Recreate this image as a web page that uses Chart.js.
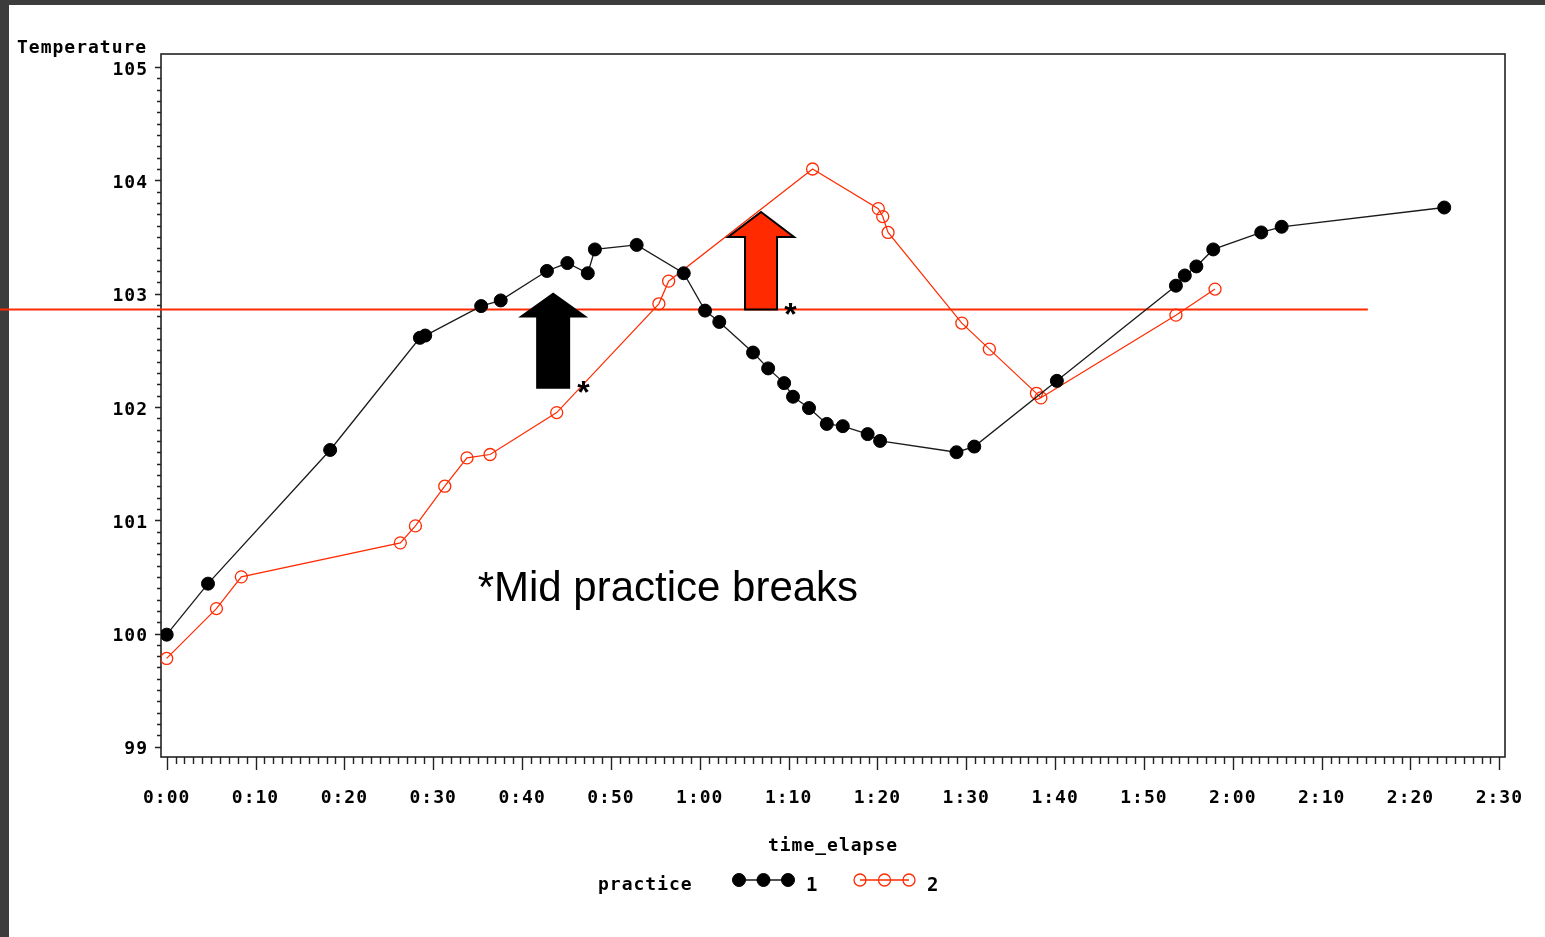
<!DOCTYPE html>
<html>
<head>
<meta charset="utf-8">
<script src="https://cdn.jsdelivr.net/npm/chart.js@4"></script>
<style>
  html, body { margin: 0; padding: 0; background: #ffffff; overflow: hidden; }
  canvas { display: block; }
</style>
</head>
<body>
<canvas id="c" width="1545" height="937"></canvas>
<script>
// ---------- data ----------
const practice1Time = [0, 4.65, 18.4, 28.5, 29.1, 35.4, 37.6, 42.8, 45.1, 47.4, 48.2, 52.9, 58.2, 60.6, 62.2, 66.0, 67.7, 69.5, 70.5, 72.3, 74.3, 76.1, 78.9, 80.3, 88.9, 90.9, 100.2, 113.6, 114.6, 115.9, 117.8, 123.2, 125.5, 143.8];
const practice1Temp = [99.99, 100.44, 101.62, 102.61, 102.63, 102.89, 102.94, 103.20, 103.27, 103.18, 103.39, 103.43, 103.18, 102.85, 102.75, 102.48, 102.34, 102.21, 102.09, 101.99, 101.85, 101.83, 101.76, 101.70, 101.60, 101.65, 102.23, 103.07, 103.16, 103.24, 103.39, 103.54, 103.59, 103.76];
const practice2Time = [0, 5.6, 8.4, 26.3, 28.0, 31.3, 33.8, 36.4, 43.9, 55.4, 56.5, 72.7, 80.1, 80.6, 81.2, 89.5, 92.6, 97.9, 98.4, 113.6, 118.0];
const practice2Temp = [99.78, 100.22, 100.50, 100.80, 100.95, 101.30, 101.55, 101.58, 101.95, 102.91, 103.11, 104.10, 103.75, 103.68, 103.54, 102.74, 102.51, 102.12, 102.08, 102.81, 103.04];
const seriesNames = ["1", "2"];
const yTickValues = [99, 100, 101, 102, 103, 104, 105];
const xTickValues = [0, 10, 20, 30, 40, 50, 60, 70, 80, 90, 100, 110, 120, 130, 140, 150];
const xTickLabels = ["0:00", "0:10", "0:20", "0:30", "0:40", "0:50", "1:00", "1:10", "1:20", "1:30", "1:40", "1:50", "2:00", "2:10", "2:20", "2:30"];
const thresholdTemp = 102.86;
const thresholdEndTime = 135.2;
// arrows: [time, tipTemp, baseTemp]
const breakArrow1 = [43.5, 103.01, 102.16];
const breakArrow2 = [66.9, 103.72, 102.86];
const asterisk1 = [46.9, 102.19];
const asterisk2 = [70.2, 102.88];
const noteText = "*Mid practice breaks";
const notePos = [35.0, 100.29];

const RED = '#ff2a00';
const MONO = '"DejaVu Sans Mono", monospace';

const toPts = (xs, ys) => xs.map((x, i) => ({ x: x, y: ys[i] }));

const decorPlugin = {
  id: 'decor',
  beforeDraw(chart) {
    const ctx = chart.ctx;
    ctx.save();
    ctx.fillStyle = '#ffffff';
    ctx.fillRect(0, 0, chart.width, chart.height);
    ctx.fillStyle = '#3c3c3c';
    ctx.fillRect(0, 0, 9, chart.height);
    ctx.fillRect(0, 0, chart.width, 5);
    ctx.restore();
    ctx.letterSpacing = '1px';
  },
  beforeDatasetsDraw(chart) {
    const ctx = chart.ctx, xs = chart.scales.x, ys = chart.scales.y, a = chart.chartArea;
    ctx.save();
    // frame
    ctx.strokeStyle = '#222';
    ctx.lineWidth = 1.6;
    ctx.strokeRect(a.left, a.top, a.right - a.left, a.bottom - a.top);
    // y ticks (major + minor)
    ctx.lineWidth = 1.4;
    ctx.beginPath();
    for (let i = 0; i < yTickValues.length; i++) {
      for (let k = 0; k < 10; k++) {
        const v = yTickValues[i] + k / 10;
        if (i === yTickValues.length - 1 && k > 0) break;
        const py = Math.round(ys.getPixelForValue(v)) + 0.5;
        const len = k === 0 ? 6 : 4;
        ctx.moveTo(a.left, py); ctx.lineTo(a.left - len, py);
      }
    }
    // x ticks
    for (let i = 0; i < xTickValues.length; i++) {
      for (let k = 0; k < 10; k++) {
        if (i === xTickValues.length - 1 && k > 0) break;
        const v = xTickValues[i] + k;
        const px = Math.round(xs.getPixelForValue(v)) + 0.5;
        const len = k === 0 ? 13 : 7;
        ctx.moveTo(px, a.bottom); ctx.lineTo(px, a.bottom + len);
      }
    }
    ctx.stroke();
    // threshold line
    ctx.strokeStyle = RED;
    ctx.lineWidth = 2;
    const ty = ys.getPixelForValue(thresholdTemp);
    ctx.beginPath();
    ctx.moveTo(0, ty);
    ctx.lineTo(xs.getPixelForValue(thresholdEndTime), ty);
    ctx.stroke();
    ctx.restore();
  },
  afterDatasetsDraw(chart) {
    const ctx = chart.ctx, xs = chart.scales.x, ys = chart.scales.y;
    ctx.save();
    ctx.letterSpacing = '0px';
    const drawArrow = (arr, fill, stroke, shaftHalf, headHalf, headLen) => {
      const cx = xs.getPixelForValue(arr[0]);
      const tip = ys.getPixelForValue(arr[1]);
      const base = ys.getPixelForValue(arr[2]);
      ctx.beginPath();
      ctx.moveTo(cx, tip);
      ctx.lineTo(cx + headHalf, tip + headLen);
      ctx.lineTo(cx + shaftHalf, tip + headLen);
      ctx.lineTo(cx + shaftHalf, base);
      ctx.lineTo(cx - shaftHalf, base);
      ctx.lineTo(cx - shaftHalf, tip + headLen);
      ctx.lineTo(cx - headHalf, tip + headLen);
      ctx.closePath();
      ctx.fillStyle = fill;
      ctx.fill();
      if (stroke) { ctx.strokeStyle = stroke; ctx.lineWidth = 2; ctx.stroke(); }
    };
    drawArrow(breakArrow1, '#000000', null, 17, 35, 25);
    drawArrow(breakArrow2, RED, '#000000', 16, 33, 25);
    // asterisks
    ctx.fillStyle = '#000';
    ctx.font = 'bold 32px "Liberation Sans", Arial, sans-serif';
    ctx.textAlign = 'center';
    ctx.textBaseline = 'alphabetic';
    [asterisk1, asterisk2].forEach(p => {
      ctx.fillText('*', xs.getPixelForValue(p[0]), ys.getPixelForValue(p[1]) + 18);
    });
    // note text
    ctx.font = '42px "Liberation Sans", Arial, sans-serif';
    ctx.textAlign = 'left';
    ctx.fillText(noteText, xs.getPixelForValue(notePos[0]), ys.getPixelForValue(notePos[1]));
    ctx.restore();
  },
  afterDraw(chart) {
    const ctx = chart.ctx, a = chart.chartArea;
    ctx.save();
    ctx.letterSpacing = '1px';
    ctx.fillStyle = '#000';
    ctx.font = 'bold 18px ' + MONO;
    ctx.textBaseline = 'alphabetic';
    ctx.textAlign = 'left';
    ctx.fillText('Temperature', 17, 53);
    ctx.textAlign = 'center';
    ctx.fillText('time_elapse', (a.left + a.right) / 2, 851);
    ctx.textAlign = 'left';
    ctx.fillText('practice', 598, 890);
    // legend entries
    const ds = chart.data.datasets;
    const drawEntry = (d, x0, labelX) => {
      const y = 880;
      ctx.strokeStyle = d.borderColor;
      ctx.lineWidth = 1.5;
      ctx.beginPath();
      ctx.moveTo(x0, y); ctx.lineTo(x0 + 49, y);
      ctx.stroke();
      for (let k = 0; k < 3; k++) {
        ctx.beginPath();
        ctx.arc(x0 + k * 24.5, y, d.pointRadius, 0, Math.PI * 2);
        if (d.pointBackgroundColor !== 'rgba(0,0,0,0)') { ctx.fillStyle = d.pointBackgroundColor; ctx.fill(); }
        ctx.strokeStyle = d.pointBorderColor;
        ctx.lineWidth = d.pointBorderWidth;
        ctx.stroke();
      }
      ctx.fillStyle = '#000';
      ctx.font = 'bold 19px ' + MONO;
      ctx.fillText(d.label, labelX, 891);
    };
    drawEntry(ds[0], 739, 806);
    drawEntry(ds[1], 860, 927);
    ctx.restore();
  }
};

new Chart(document.getElementById('c'), {
  type: 'line',
  data: {
    datasets: [
      {
        label: seriesNames[0],
        data: toPts(practice1Time, practice1Temp),
        borderColor: '#1a1a1a',
        borderWidth: 1.3,
        pointRadius: 6.5,
        pointBackgroundColor: '#000000',
        pointBorderColor: '#000000',
        pointBorderWidth: 1,
        tension: 0
      },
      {
        label: seriesNames[1],
        data: toPts(practice2Time, practice2Temp),
        borderColor: RED,
        borderWidth: 1.2,
        pointRadius: 6,
        pointBackgroundColor: 'rgba(0,0,0,0)',
        pointBorderColor: RED,
        pointBorderWidth: 1.3,
        tension: 0
      }
    ]
  },
  options: {
    responsive: false,
    animation: false,
    devicePixelRatio: 1,
    layout: { padding: { left: 0, top: 54, right: 40, bottom: 0 } },
    plugins: { legend: { display: false }, title: { display: false }, tooltip: { enabled: false } },
    events: [],
    scales: {
      x: {
        type: 'linear',
        min: -0.64,
        max: 150.64,
        afterFit: s => { s.height = 180; s.paddingLeft = 0; s.paddingRight = 0; },
        afterBuildTicks: s => { s.ticks = xTickValues.map(v => ({ value: v })); },
        grid: { display: false, drawTicks: false, tickLength: 0 },
        border: { display: false },
        ticks: {
          autoSkip: false,
          maxRotation: 0,
          padding: 31,
          color: '#000',
          font: { family: MONO, size: 18, weight: 'bold' },
          callback: (v) => { const i = xTickValues.indexOf(v); return i >= 0 ? xTickLabels[i] : ''; }
        }
      },
      y: {
        type: 'linear',
        min: 98.91,
        max: 105.115,
        afterFit: s => { s.width = 161; s.paddingTop = 0; s.paddingBottom = 0; },
        afterBuildTicks: s => { s.ticks = yTickValues.map(v => ({ value: v })); },
        grid: { display: false, drawTicks: false, tickLength: 0 },
        border: { display: false },
        ticks: {
          autoSkip: false,
          padding: 13,
          labelOffset: 3,
          color: '#000',
          font: { family: MONO, size: 18, weight: 'bold' },
          callback: (v) => String(v)
        }
      }
    }
  },
  plugins: [decorPlugin]
});
</script>
</body>
</html>
